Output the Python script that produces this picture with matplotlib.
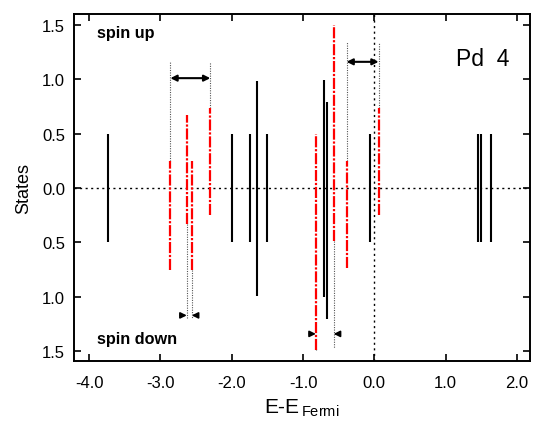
import matplotlib
matplotlib.use("Agg")
import matplotlib.pyplot as plt

plt.rcParams['font.family'] = ['Liberation Sans', 'DejaVu Sans']
plt.rcParams['mathtext.fontset'] = 'custom'
plt.rcParams['mathtext.rm'] = 'Liberation Sans'
plt.rcParams['mathtext.it'] = 'Liberation Sans:italic'

# Black (solid) levels: energy, spin-up height, spin-down height
black_E = [-3.73, -2.00, -1.75, -1.64, -1.50, -0.706, -0.664, -0.056, 1.46, 1.49, 1.63]
black_up = [0.5, 0.5, 0.5, 0.98, 0.5, 0.99, 0.79, 0.5, 0.5, 0.5, 0.5]
black_down = [0.5, 0.5, 0.5, 0.99, 0.5, 1.0, 1.2, 0.5, 0.5, 0.5, 0.5]

# Red (dash-dot) levels
red_E = [-2.86, -2.63, -2.56, -2.30, -0.82, -0.57, -0.39, 0.06]
red_up = [0.25, 0.67, 0.25, 0.74, 0.5, 1.5, 0.25, 0.74]
red_down = [0.75, 0.33, 0.75, 0.25, 1.49, 0.49, 0.73, 0.25]

# Splitting annotations: (x1, x2, arrow y, guide extent)
split_up = [(-2.86, -2.30, 1.01, 1.16), (-0.39, 0.06, 1.16, 1.34)]
split_down = [(-2.63, -2.56, -1.17, -1.19), (-0.82, -0.57, -1.34, -1.47)]

xticks = [-4.0, -3.0, -2.0, -1.0, 0.0, 1.0, 2.0]
yticks = [-1.5, -1.0, -0.5, 0.0, 0.5, 1.0, 1.5]

fig = plt.figure(figsize=(5.33, 4.27), dpi=100)
ax = fig.add_axes([0.139, 0.152, 0.855, 0.813])

ax.axhline(0, color='black', lw=1.0, ls=(0, (1.5, 2.5)), zorder=1)
ax.axvline(0, color='black', lw=1.0, ls=(0, (1.5, 2.5)), zorder=1)

ax.vlines(black_E, [-d for d in black_down], black_up, colors='black', lw=1.5, zorder=3)
ax.vlines(red_E, [-d for d in red_down], red_up, colors='red', lw=1.6,
          linestyles=[(0, (5, 0.8, 1.0, 0.8))], zorder=3)

# guides and arrows
for x1, x2, ya, yg in split_up:
    for x, top in ((x1, red_up[red_E.index(x1)]), (x2, red_up[red_E.index(x2)])):
        ax.plot([x, x], [top, yg], color='#555555', lw=0.8, ls=(0, (1, 1.2)), zorder=2)
    ax.annotate('', xy=(x2, ya), xytext=(x1, ya),
                arrowprops=dict(arrowstyle='<|-|>', color='black', lw=1.5,
                                mutation_scale=9, shrinkA=0, shrinkB=0))
for x1, x2, ya, yg in split_down:
    for x in (x1, x2):
        bot = -red_down[red_E.index(x)]
        ax.plot([x, x], [bot, yg], color='#555555', lw=0.8, ls=(0, (1, 1.2)), zorder=2)
    ax.annotate('', xy=(x1, ya), xytext=(x1 - 0.09, ya),
                arrowprops=dict(arrowstyle='-|>', color='black', lw=1.2,
                                mutation_scale=9, shrinkA=0, shrinkB=0))
    ax.annotate('', xy=(x2, ya), xytext=(x2 + 0.09, ya),
                arrowprops=dict(arrowstyle='-|>', color='black', lw=1.2,
                                mutation_scale=9, shrinkA=0, shrinkB=0))

ax.text(-3.89, 1.43, 'spin up', fontsize=11.7, fontweight='bold', va='center', ha='left')
ax.text(-3.89, -1.38, 'spin down', fontsize=11.7, fontweight='bold', va='center', ha='left')
ax.text(1.52, 1.19, 'Pd  4', fontsize=16.5, va='center', ha='center')

ax.set_xlim(-4.21, 2.18)
ax.set_ylim(-1.59, 1.6)
ax.set_xticks(xticks)
ax.set_xticklabels([f'{v:.1f}' for v in xticks])
ax.set_yticks(yticks)
ax.set_yticklabels([f'{abs(v):.1f}' for v in yticks])
ax.tick_params(direction='in', top=True, right=True, length=5, width=1.2, labelsize=12)
ax.tick_params(axis='x', pad=10)
ax.tick_params(axis='y', pad=6.5)
for s in ax.spines.values():
    s.set_linewidth(1.4)

ax.set_xlabel(r'E-E$_{\,\mathrm{Fermi}}$', fontsize=15, labelpad=5)
ax.set_ylabel('States', fontsize=13, labelpad=7)

fig.savefig('out.png', dpi=100)
